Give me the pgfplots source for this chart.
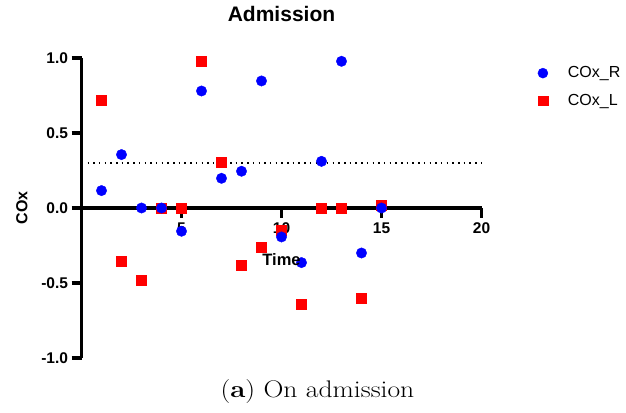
\documentclass[border=0pt]{standalone}
\usepackage{fontspec}
\usepackage{pgfplots}
\pgfplotsset{compat=1.18}
\newfontfamily\arialf{Liberation Sans}
\definecolor{ptblue}{RGB}{0,0,255}
\definecolor{ptred}{RGB}{255,0,0}
\begin{document}
\begin{tikzpicture}
\useasboundingbox (0,0) rectangle (626pt,412pt);
\begin{axis}[
  at={(81.5pt,54pt)}, anchor=south west,
  scale only axis, width=400pt, height=300pt,
  xmin=0, xmax=20, ymin=-1, ymax=1,
  axis x line=middle, axis y line=left,
  axis line style={-, line width=3.3pt, black},
  axis on top=false,
  clip=false,
  xtick={5,10,15,20},
  xticklabels={5,10,15,20},
  ytick={-1,-0.5,0,0.5,1},
  yticklabels={-1.0,-0.5,0.0,0.5,1.0},
  major tick length=10pt,
  tick style={line width=3.3pt, black},
  xtick align=center,
  xtick style={yshift=-5pt},
  ytick align=outside,
  tick label style={font=\arialf\bfseries\fontsize{15.5}{18}\selectfont},
  xticklabel style={yshift=-6pt},
  title={Admission},
  title style={font=\arialf\bfseries\fontsize{21}{25}\selectfont, at={(axis description cs:0.5,1.127)}, anchor=center},
  xlabel={Time},
  ylabel={COx},
  every axis x label/.style={at={(axis description cs:0.5,0.327)}, anchor=center, font=\arialf\bfseries\fontsize{16.5}{19}\selectfont},
  every axis y label/.style={at={(axis description cs:-0.149,0.5)}, anchor=center, rotate=90, font=\arialf\bfseries\fontsize{16}{19}\selectfont},
  legend image code/.code={\draw[#1] plot coordinates {(0pt,0pt)};},
  legend style={at={(axis description cs:1.1405,0.978)}, anchor=north west, draw=none, fill=none,
    inner sep=0pt, font=\arialf\fontsize{16}{19}\selectfont, row sep=11pt,
    /tikz/every odd column/.append style={column sep=18pt}},
  legend cell align=left,
]
\addlegendimage{only marks, color=ptblue, mark=*, mark size=5.0pt}
\addlegendentry{COx\_R}
\addlegendimage{only marks, color=ptred, mark=square*, mark size=4.8pt}
\addlegendentry{COx\_L}
\addplot[black, line width=1.5pt, dash pattern=on 1.5pt off 4.2pt, forget plot] coordinates {(0.3,0.3) (20,0.3)};
\addplot[only marks, color=ptred, mark=square*, mark size=5.1pt, forget plot] coordinates {
(1,0.72) (2,-0.355) (3,-0.484) (4,0) (5,0) (6,0.976) (7,0.307) (8,-0.384) (9,-0.26) (10,-0.149) (11,-0.642) (12,0) (13,0) (14,-0.604) (15,0.02)
};
\addplot[only marks, color=ptblue, mark=*, mark size=5.2pt, forget plot] coordinates {
(1,0.116) (2,0.356) (3,0) (4,0) (5,-0.155) (6,0.78) (7,0.198) (8,0.245) (9,0.847) (10,-0.193) (11,-0.364) (12,0.311) (13,0.978) (14,-0.3) (15,0)
};
\node at (axis description cs:0.59,-0.113) {\scalebox{1.15}[1]{\fontsize{24}{29}\selectfont(\textbf{a}) On admission}};
\end{axis}
\end{tikzpicture}
\end{document}
